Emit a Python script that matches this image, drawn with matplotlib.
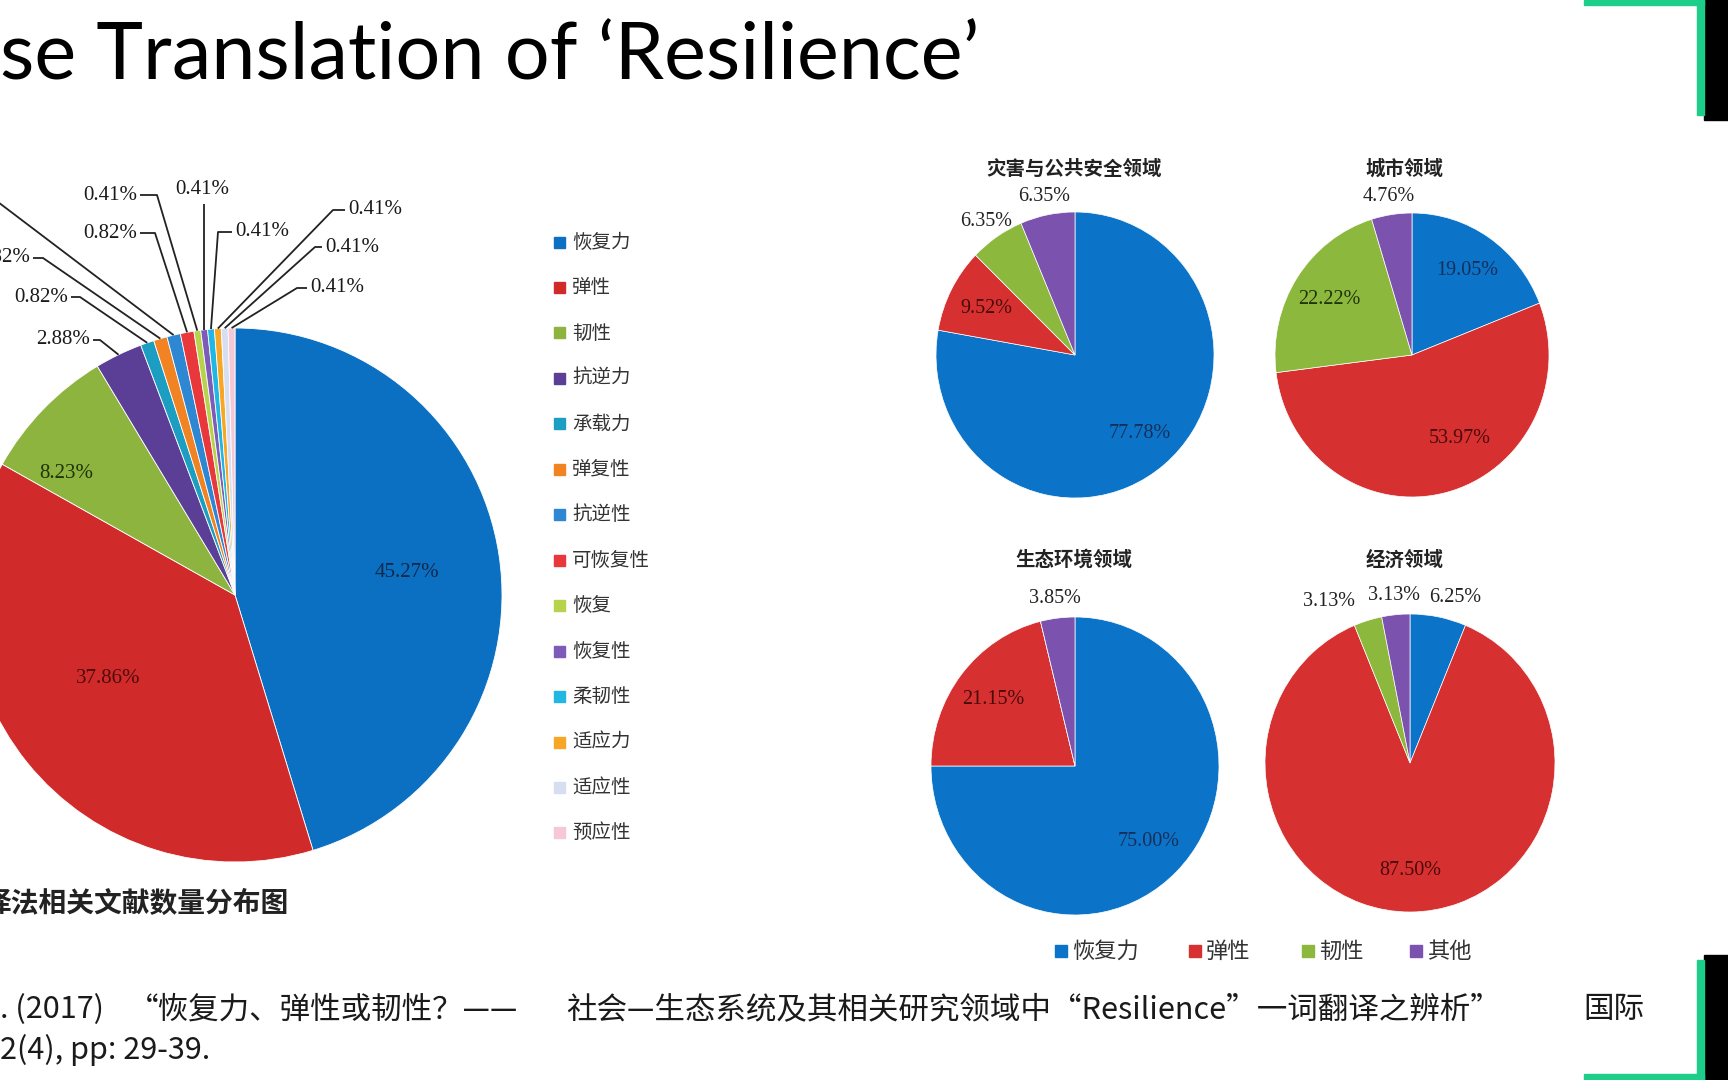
import numpy as np
import matplotlib
matplotlib.use("Agg")
import matplotlib.pyplot as plt
from matplotlib.patches import Rectangle

plt.rcParams["font.family"] = ["Noto Sans CJK SC", "DejaVu Sans"]

W, H = 1728, 1080  # canvas in pixels (figure is drawn at dpi 100)

# ---- left pie: Chinese translations of "resilience" (share of papers, %)
TERMS = ["恢复力", "弹性", "韧性", "抗逆力", "承载力", "弹复性", "抗逆性",
         "可恢复性", "恢复", "恢复性", "柔韧性", "适应力", "适应性", "预应性"]
TERM_PCT = [45.27, 37.86, 8.23, 2.88, 0.82, 0.82, 0.82,
            0.82, 0.41, 0.41, 0.41, 0.41, 0.41, 0.41]
TERM_COLORS = ["#0B6FC2", "#D12A2A", "#8CB43F", "#5B3E96", "#1C9DC2",
               "#F28322", "#2D87D3", "#E8383B", "#B7D34C", "#7D5BB8",
               "#22B7E2", "#F7A625", "#D6DEF1", "#F6C8D5"]

# ---- right pies: translation by research field (%)
FIELDS = ["灾害与公共安全领域", "城市领域", "生态环境领域", "经济领域"]
FIELD_CATS = ["恢复力", "弹性", "韧性", "其他"]
DISASTER = [77.78, 9.52, 6.35, 6.35]
URBAN = [19.05, 53.97, 22.22, 4.76]
ECOLOGY = [75.00, 21.15, 0.00, 3.85]
ECONOMY = [6.25, 87.50, 3.13, 3.13]
FIELD_COLORS = ["#0B74C8", "#D63030", "#8DB83E", "#7B52AE"]
FIELD_TEXT = ["#162F5A", "#4A0A0A", "#20340A", "#222222"]

TITLE = "se Translation of \u2018Resilience\u2019"
LEFT_CAPTION = "译法相关文献数量分布图"
REF_LINE1 = [". (2017)", "\u201c恢复力、弹性或韧性？——",
             "社会—生态系统及其相关研究领域中\u201cResilience\u201d一词翻译之辨析\u201d", "国际"]
REF_LINE2 = "2(4), pp: 29-39."

SERIF = ["Liberation Serif", "DejaVu Serif"]


def P(x, y):
    """pixel position (y down) -> overlay data coords (y up)"""
    return x, H - y


fig = plt.figure(figsize=(W / 100, H / 100), dpi=100, facecolor="white")
ax = fig.add_axes([0, 0, 1, 1])

# ---------------- main pie
cx, cy, R = 235, 595, 267
wedges, _ = ax.pie(TERM_PCT, colors=TERM_COLORS, startangle=90, counterclock=False,
                   center=P(cx, cy), radius=R,
                   wedgeprops=dict(edgecolor="white", linewidth=0.6))
ax.set_xlim(0, W)
ax.set_ylim(0, H)
ax.set_aspect("auto")
ax.axis("off")

inner = {0: (0.65, "#10284A", (0, -0.01)), 1: (0.56, "#4D0C0C", (-0.04, 0.04)),
         2: (0.77, "#1E3306", (-0.08, -0.08))}
for i, (r, col, (dx, dy)) in inner.items():
    w = wedges[i]
    a = np.deg2rad((w.theta1 + w.theta2) / 2)
    x = w.center[0] + R * (r * np.cos(a) + dx)
    y = w.center[1] + R * (r * np.sin(a) + dy)
    ax.text(x, y, f"{TERM_PCT[i]:.2f}%", ha="center", va="center",
            fontsize=15, family=SERIF, color=col)

# leader-line labels for the thin slices: text x, text y, alignment, elbow x
small_pos = {3: (90, 340, "right", 100), 4: (68, 297, "right", 80),
             5: (30, 258, "right", 43), 6: (-14, 199, "right", -6),
             7: (137, 233, "right", 155), 8: (137, 195, "right", 157),
             9: (202, 190, "center", None), 10: (235, 232, "left", 218),
             11: (348, 210, "left", 333), 12: (325, 247, "left", 315),
             13: (310, 288, "left", 297)}
for i, (tx, ty, ha, ex) in small_pos.items():
    w = wedges[i]
    a = np.deg2rad((w.theta1 + w.theta2) / 2)
    rx = w.center[0] + R * np.cos(a)
    ry = w.center[1] + R * np.sin(a)
    if ex is None:
        xs, ys = [rx, rx], [ry, H - (ty + 14)]
    else:
        end = tx + 3 if ha == "right" else tx - 3
        xs = [rx, ex, end]
        ys = [ry, H - ty, H - ty]
    ax.plot(xs, ys, color="#222222", lw=1.3, solid_capstyle="butt")
    ax.text(*P(tx, ty), f"{TERM_PCT[i]:.2f}%", ha=ha, va="center",
            fontsize=15, family=SERIF, color="#1a1a1a")

# legend for the main pie
for i, (term, col) in enumerate(zip(TERMS, TERM_COLORS)):
    ly = 242 + i * 45.46
    ax.add_patch(Rectangle(P(554, ly + 5.5), 11, 11, color=col))
    ax.text(*P(572, ly), term, ha="left", va="center", fontsize=14, color="#333333")

ax.text(*P(-16, 904), LEFT_CAPTION, ha="left", va="center", fontsize=20,
        fontweight="bold", color="#222222")

# ---------------- field pies
field_vals = [DISASTER, URBAN, ECOLOGY, ECONOMY]
boxes = [(1075, 355, 139, 143), (1412, 355, 137, 142),
         (1075, 766, 144, 149), (1410, 763, 145, 149)]
titles_y = [169, 169, 560, 560]
titles_x = [1074, 1404, 1074, 1405]
nudge = {(1, 1): (0.17, 0.11), (3, 2): (-0.23, 0.0), (3, 0): (0.09, 0.0)}
for k, (vals, (bx, by, brx, bry)) in enumerate(zip(field_vals, boxes)):
    pax = fig.add_axes([(bx - brx) / W, 1 - (by + bry) / H, 2 * brx / W, 2 * bry / H])
    pw, _ = pax.pie(vals, colors=FIELD_COLORS, startangle=90, counterclock=False,
                    radius=1, wedgeprops=dict(edgecolor="white", linewidth=0.5))
    pax.set_xlim(-1, 1)
    pax.set_ylim(-1, 1)
    pax.set_aspect("auto")
    pax.axis("off")
    for j, (v, w) in enumerate(zip(vals, pw)):
        if v <= 0:
            continue
        a = np.deg2rad((w.theta1 + w.theta2) / 2)
        outside = v < 8
        r = 1.13 if outside else 0.72
        dx, dy = nudge.get((k, j), (0, 0))
        col = "#222222" if outside else FIELD_TEXT[j]
        pax.text(r * np.cos(a) + dx, r * np.sin(a) + dy, f"{v:.2f}%",
                 ha="center", va="center", fontsize=14.5, family=SERIF,
                 color=col, clip_on=False)
    ax.text(*P(titles_x[k], titles_y[k]), FIELDS[k], ha="center", va="center",
            fontsize=14, fontweight="bold", color="#222222")

# legend for the field pies
legend_x = [1055, 1189, 1302, 1410]
for lx, cat, col in zip(legend_x, FIELD_CATS, FIELD_COLORS):
    ax.add_patch(Rectangle(P(lx, 951 + 6), 12, 12, color=col))
    ax.text(*P(lx + 17, 951), cat, ha="left", va="center", fontsize=16, color="#333333")

# ---------------- slide text
ax.text(*P(0, 80), TITLE, ha="left", va="baseline", fontsize=57,
        family=["Lato", "Liberation Sans"], color="black")

for x, s in zip([0, 128, 566, 1583], REF_LINE1):
    ax.text(*P(x, 1010), s, ha="left", va="center", fontsize=22, color="#1a1a1a")
ax.text(*P(0, 1050), REF_LINE2, ha="left", va="center", fontsize=22, color="#1a1a1a")

# slide frame decoration (green corner brackets on dark blocks)
GREEN = "#1DCE8A"
ax.add_patch(Rectangle((1704, H - 120), 24, 120, color="black"))
ax.add_patch(Rectangle((1704, 0), 24, 125, color="black"))
ax.add_patch(Rectangle((1697, H - 115), 7, 115, color=GREEN))
ax.add_patch(Rectangle((1584, H - 5), 120, 5, color=GREEN))
ax.add_patch(Rectangle((1697, 0), 7, 120, color=GREEN))
ax.add_patch(Rectangle((1584, 0), 120, 6, color=GREEN))

fig.savefig("out.png", dpi=100, facecolor="white")
